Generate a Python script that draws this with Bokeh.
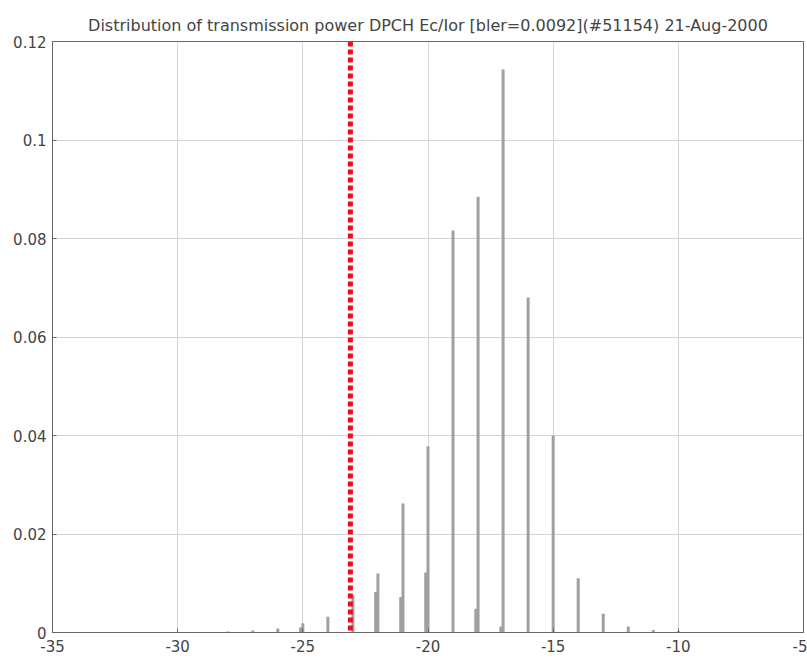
from bokeh.plotting import figure
from bokeh.models import Range1d, FixedTicker, Span, ColumnDataSource
from bokeh.transform import dodge
from bokeh.embed import file_html
from bokeh.resources import INLINE

# ---- data ----
title_text = "Distribution of transmission power DPCH Ec/Ior [bler=0.0092](#51154) 21-Aug-2000"
bins = [-29, -28, -27, -26, -25, -24, -23, -22, -21, -20, -19, -18, -17, -16, -15, -14, -13, -12, -11, -10]
main_share = [0.0001, 0.0002, 0.0004, 0.0008, 0.0019, 0.0032, 0.0075, 0.0120, 0.0262, 0.0378,
              0.0816, 0.0885, 0.1143, 0.0680, 0.0400, 0.0110, 0.0038, 0.0012, 0.0005, 0.0003]
second_share = [0.0, 0.0, 0.0, 0.0, 0.0010, 0.0, 0.0, 0.0082, 0.0072, 0.0122,
                0.0, 0.0048, 0.0012, 0.0, 0.0, 0.0, 0.0, 0.0, 0.0, 0.0]
target_value = -23.1
x_ticks = [-35, -30, -25, -20, -15, -10, -5]
x_tick_labels = ["-35", "-30", "-25", "-20", "-15", "-10", "-5"]
y_ticks = [0, 0.02, 0.04, 0.06, 0.08, 0.1, 0.12]
y_tick_labels = ["0", "0.02", "0.04", "0.06", "0.08", "0.1", "0.12"]

src = ColumnDataSource(dict(x=bins, main=main_share, second=second_share))

p = figure(width=807, height=659, output_backend="svg", toolbar_location=None,
           x_range=Range1d(-35, -5), y_range=Range1d(0, 0.12),
           min_border_left=52, min_border_right=4, min_border_top=41, min_border_bottom=27)

p.title.text = title_text
p.title.align = "center"
p.title.text_font = "DejaVu Sans"
p.title.text_font_size = "16px"
p.title.text_font_style = "normal"
p.title.text_color = "#444444"
p.title.standoff = 13

bar_color = "#a0a0a0"
p.vbar(x=dodge("x", -0.09, range=p.x_range), top="second", width=0.12, source=src,
       fill_color=bar_color, line_color=None)
p.vbar(x="x", top="main", width=0.12, source=src, fill_color=bar_color, line_color=None)

p.add_layout(Span(location=target_value, dimension="height", line_color="#e3121b",
                  line_width=5, line_dash="5 3"))

p.xaxis.ticker = FixedTicker(ticks=x_ticks)
p.yaxis.ticker = FixedTicker(ticks=y_ticks)
p.xaxis.major_label_overrides = {t: l for t, l in zip(x_ticks, x_tick_labels)}
p.yaxis.major_label_overrides = {t: l for t, l in zip(y_ticks, y_tick_labels)}

for ax in (p.xaxis[0], p.yaxis[0]):
    ax.axis_line_color = "#666666"
    ax.major_tick_line_color = "#666666"
    ax.major_tick_in = 4
    ax.major_tick_out = 0
    ax.minor_tick_line_color = None
    ax.major_label_text_font = "DejaVu Sans"
    ax.major_label_text_font_size = "15px"
    ax.major_label_text_color = "#444444"
p.xaxis.major_label_standoff = 7
p.yaxis.major_label_standoff = 6

p.xgrid.ticker = FixedTicker(ticks=x_ticks)
p.ygrid.ticker = FixedTicker(ticks=y_ticks)
p.grid.grid_line_color = "#d4d4d4"
p.grid.grid_line_width = 1

p.outline_line_color = "#666666"
p.outline_line_width = 1
p.background_fill_color = "white"
p.border_fill_color = "white"

open("out.html", "w").write(file_html(p, INLINE))
